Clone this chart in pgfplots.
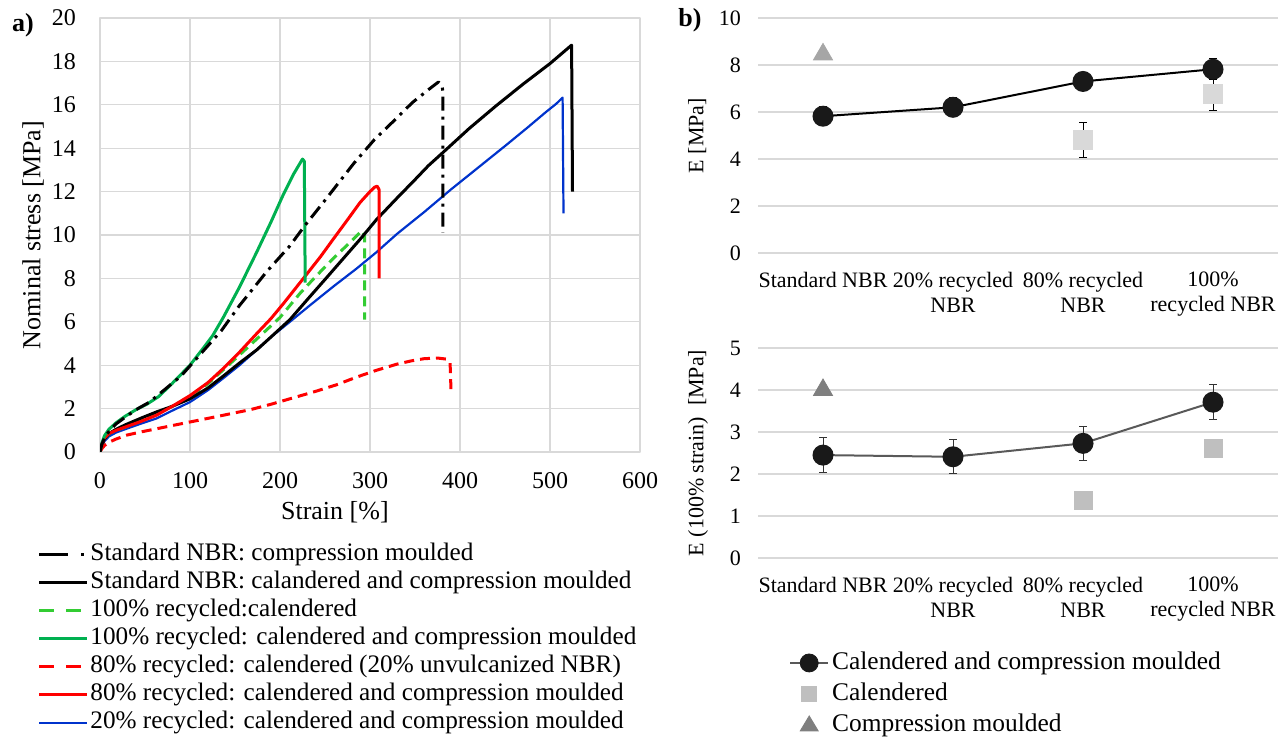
\documentclass[border=0pt]{standalone}
\usepackage{pgfplots}
\pgfplotsset{compat=1.18}
\usepackage{fontspec}
\setmainfont{Liberation Serif}
\definecolor{gridgray}{HTML}{D9D9D9}
\definecolor{xlgreen}{HTML}{00B050}
\definecolor{ltgreen}{HTML}{33CC33}
\definecolor{xlblue}{HTML}{0033CC}
\definecolor{calA}{HTML}{D9D9D9}
\definecolor{cmA}{HTML}{A6A6A6}
\definecolor{calB}{HTML}{BFBFBF}
\definecolor{cmB}{HTML}{7F7F7F}
\definecolor{lineB}{HTML}{595959}

\pgfplotstableread{
x y
0 0
2 0.35
5 0.65
10 0.95
18 1.3
28 1.6
40 1.95
55 2.3
74 2.95
90 3.5
105 4.2
120 4.9
135 5.6
155 6.75
185 8.3
211 9.5
227 10.4
250 11.6
282 13.3
305 14.4
325 15.2
347 16.1
365 16.7
376 17.05
380 16.9
381 16.6
381 10.1
}\stdcm

\pgfplotstableread{
x y
0 0
2 0.3
5 0.6
10 0.85
18 1.05
28 1.25
45 1.55
63 1.85
80 2.1
100 2.45
120 2.95
137 3.5
155 4.1
174 4.7
190 5.3
211 6.1
233 7.15
250 7.95
270 8.9
290 9.85
307 10.7
330 11.7
350 12.55
365 13.2
381 13.8
410 14.9
440 15.95
470 16.95
500 17.9
524 18.75
525 12.0
}\stdccm

\pgfplotstableread{
x y
0 0
2 0.3
5 0.6
10 0.85
18 1.0
28 1.15
45 1.45
63 1.75
80 2.1
100 2.55
120 3.15
144 4.05
174 5.2
200 6.2
222 7.3
240 8.1
260 8.95
280 9.75
291 10.2
294 10.0
294 6.1
}\rcal

\pgfplotstableread{
x y
0 0
2 0.4
5 0.75
10 1.05
18 1.35
28 1.65
40 1.95
52 2.2
65 2.55
80 3.15
100 4.0
115 4.8
125 5.35
137 6.2
155 7.6
174 9.2
190 10.6
203 11.8
215 12.8
225 13.5
227 13.4
228 7.8
}\rccm

\pgfplotstableread{
x y
0 0
2 0.15
5 0.3
10 0.45
18 0.6
30 0.78
45 0.92
64 1.08
90 1.3
120 1.55
140 1.72
167 1.95
190 2.2
215 2.5
240 2.8
263 3.1
285 3.45
306 3.75
330 4.05
346 4.2
360 4.3
375 4.33
385 4.28
389 4.1
390 2.85
}\ecal

\pgfplotstableread{
x y
0 0
2 0.35
5 0.65
10 0.85
18 1.0
28 1.15
45 1.4
63 1.7
80 2.1
100 2.6
120 3.2
137 3.85
155 4.6
174 5.45
190 6.15
204 6.85
226 8.0
245 9.0
259 9.8
275 10.7
289 11.5
300 12.0
305 12.2
308 12.25
310 12.1
310 8.0
}\eccm

\pgfplotstableread{
x y
0 0
2 0.25
5 0.5
10 0.72
18 0.9
28 1.05
45 1.3
63 1.55
80 1.9
100 2.3
120 2.85
137 3.4
155 4.0
174 4.7
190 5.3
211 6.0
233 6.75
260 7.65
285 8.45
307 9.2
330 10.05
360 11.05
390 12.1
420 13.1
450 14.1
475 14.95
495 15.65
507 16.05
514 16.33
515 11.0
}\tccm

\pgfplotstableread{
x y e
0 5.82 0.4
1 6.2 0.4
2 7.3 0.38
3 7.82 0.45
}\Eccm
\pgfplotstableread{
x y e
2 4.82 0.74
3 6.78 0.73
}\Ecal
\pgfplotstableread{
x y e
0 8.45 0.2
}\Ecm

\pgfplotstableread{
x y e
0 2.45 0.41
1 2.41 0.41
2 2.73 0.41
3 3.71 0.41
}\Mccm
\pgfplotstableread{
x y
2 1.36
3 2.6
}\Mcal
\pgfplotstableread{
x y
0 4.0
}\Mcm

\begin{document}
\begin{tikzpicture}
\useasboundingbox (0,0) rectangle (641.5pt,368.5pt);
\node[font=\bfseries\fontsize{13}{13}\selectfont] at (11.5pt,356pt) {a)};
\node[font=\bfseries\fontsize{13}{13}\selectfont] at (345pt,358.5pt) {b)};

% ---------------- a) ----------------
\begin{axis}[
  scale only axis, anchor=south west, at={(50pt,142.5pt)},
  width=270pt, height=217pt,
  xmin=0, xmax=600, ymin=0, ymax=20,
  xtick={0,100,...,600}, ytick={0,2,...,20},
  grid=major, grid style={draw=gridgray, line width=0.6pt},
  axis line style={draw=gridgray, line width=0.6pt},
  tick style={draw=none},
  /pgf/number format/assume math mode=true,
  ticklabel style={font=\fontsize{12}{12}\selectfont},
  xticklabel style={yshift=-6.5pt},
  yticklabel style={xshift=-8.5pt},
  xlabel={Strain [\%]}, ylabel={Nominal stress [MPa]},
  label style={font=\fontsize{13}{13}\selectfont},
  xlabel style={at={(axis description cs:0.435,-0.138)}, anchor=center},
  ylabel style={at={(axis description cs:-0.124,0.5)}, anchor=center},
  legend cell align=left,
  legend style={at={(axis description cs:-0.115,-0.205)}, anchor=north west,
    draw=none, fill=none, inner sep=0pt, outer sep=0pt, row sep=0pt,
    font=\fontsize{12.6}{12.6}\selectfont,
    nodes={inner sep=0pt, text height=10pt, text depth=4pt},
    /tikz/every odd column/.append style={column sep=0.8pt}},
  line join=round,
]
\addlegendimage{legend image code/.code={\draw[black, line width=1.5pt] (0pt,0pt) -- (14.5pt,0pt); \draw[black, line width=1.5pt] (21pt,0pt) -- (22.5pt,0pt);}}
\addlegendentry{Standard NBR: compression moulded}
\addlegendimage{legend image code/.code={\draw[black, line width=1.5pt] (0pt,0pt) -- (24pt,0pt);}}
\addlegendentry{Standard NBR: calandered and compression moulded}
\addlegendimage{legend image code/.code={\draw[ltgreen, line width=1.5pt, dash pattern=on 7.5pt off 6pt] (0pt,0pt) -- (21pt,0pt);}}
\addlegendentry{100\% recycled:calendered}
\addlegendimage{legend image code/.code={\draw[xlgreen, line width=1.5pt] (0pt,0pt) -- (24pt,0pt);}}
\addlegendentry{100\% recycled: calendered and compression moulded}
\addlegendimage{legend image code/.code={\draw[red, line width=1.5pt, dash pattern=on 7.5pt off 6pt] (0pt,0pt) -- (21pt,0pt);}}
\addlegendentry{80\% recycled: calendered (20\% unvulcanized NBR)}
\addlegendimage{legend image code/.code={\draw[red, line width=1.5pt] (0pt,0pt) -- (24pt,0pt);}}
\addlegendentry{80\% recycled: calendered and compression moulded}
\addlegendimage{legend image code/.code={\draw[xlblue, line width=1.1pt] (0pt,0pt) -- (24pt,0pt);}}
\addlegendentry{20\% recycled: calendered and compression moulded}

\addplot[forget plot, xlblue, line width=1.1pt] table {\tccm};
\addplot[forget plot, ltgreen, line width=1.5pt, dash pattern=on 5pt off 3pt] table {\rcal};
\addplot[forget plot, black, line width=1.5pt] table {\stdccm};
\addplot[forget plot, red, line width=1.5pt, dash pattern=on 5pt off 3pt] table {\ecal};
\addplot[forget plot, red, line width=1.5pt] table {\eccm};
\addplot[forget plot, xlgreen, line width=1.5pt] table {\rccm};
\addplot[forget plot, black, line width=1.5pt, dash pattern=on 7pt off 3pt on 1.5pt off 3pt] table {\stdcm};
\end{axis}

% ---------------- b) upper ----------------
\begin{axis}[
  scale only axis, anchor=south west, at={(379pt,242pt)},
  width=260pt, height=117.5pt,
  xmin=-0.5, xmax=3.5, ymin=0, ymax=10,
  xtick={0,1,2,3}, ytick={0,2,...,10},
  xticklabels={Standard NBR, {20\% recycled\\NBR}, {80\% recycled\\NBR}, {100\%\\recycled NBR}},
  ymajorgrids, grid style={draw=gridgray, line width=0.6pt},
  axis line style={draw=none}, tick style={draw=none},
  /pgf/number format/assume math mode=true,
  ticklabel style={font=\fontsize{11}{12.5}\selectfont},
  xticklabel style={align=center, yshift=-6pt},
  yticklabel style={xshift=-5pt},
  ylabel={E [MPa]},
  label style={font=\fontsize{11}{11}\selectfont},
  ylabel style={at={(axis description cs:-0.117,0.5)}, anchor=center},
]
\addplot[black, line width=1pt, mark=*, mark size=4.75pt, mark options={fill=black!90, draw=black!90},
  error bars/.cd, y dir=both, y explicit,
  error bar style={line width=0.5pt, black},
  error mark options={rotate=90, mark size=2pt, line width=0.5pt, black}]
  table[x=x, y=y, y error=e] {\Eccm};
\addplot[only marks, mark=square*, mark size=4.75pt, mark options={fill=calA, draw=calA},
  error bars/.cd, y dir=both, y explicit,
  error bar style={line width=0.5pt, black},
  error mark options={rotate=90, mark size=2pt, line width=0.5pt, black}]
  table[x=x, y=y, y error=e] {\Ecal};
\addplot[only marks, mark=triangle*, mark size=5.5pt, mark options={fill=cmA, draw=cmA},
  error bars/.cd, y dir=both, y explicit,
  error bar style={line width=0.5pt, black},
  error mark options={rotate=90, mark size=2pt, line width=0.5pt, black}]
  table[x=x, y=y, y error=e] {\Ecm};
\end{axis}

% ---------------- b) lower ----------------
\begin{axis}[
  scale only axis, anchor=south west, at={(379pt,89.5pt)},
  width=260pt, height=105pt,
  xmin=-0.5, xmax=3.5, ymin=0, ymax=5,
  xtick={0,1,2,3}, ytick={0,1,...,5},
  xticklabels={Standard NBR, {20\% recycled\\NBR}, {80\% recycled\\NBR}, {100\%\\recycled NBR}},
  ymajorgrids, grid style={draw=gridgray, line width=0.6pt},
  axis line style={draw=none}, tick style={draw=none},
  /pgf/number format/assume math mode=true,
  ticklabel style={font=\fontsize{11}{12.5}\selectfont},
  xticklabel style={align=center, yshift=-6pt},
  yticklabel style={xshift=-5pt},
  ylabel={E (100\% strain)\ \ [MPa]},
  label style={font=\fontsize{11}{11}\selectfont},
  ylabel style={at={(axis description cs:-0.115,0.5)}, anchor=center},
  legend cell align=left,
  legend style={at={(axis description cs:0.06,-0.426)}, anchor=north west,
    draw=none, fill=none, inner sep=0pt, outer sep=0pt, row sep=0pt,
    font=\fontsize{12.7}{12.7}\selectfont,
    nodes={inner sep=0pt, text height=11pt, text depth=4.5pt},
    /tikz/every odd column/.append style={column sep=1.5pt}},
]
\addlegendimage{legend image code/.code={\draw[lineB, line width=1pt] (0pt,0pt) -- (19pt,0pt); \fill[black!90] (9.5pt,0pt) circle (4.5pt);}}
\addlegendentry{Calendered and compression moulded}
\addlegendimage{legend image code/.code={\fill[calB] (5.75pt,-3.75pt) rectangle (13.25pt,3.75pt);}}
\addlegendentry{Calendered}
\addlegendimage{legend image code/.code={\fill[cmB] (5pt,-3pt) -- (14pt,-3pt) -- (9.5pt,4.5pt) -- cycle;}}
\addlegendentry{Compression moulded}

\addplot[forget plot, lineB, line width=1pt, mark=*, mark size=4.75pt, mark options={fill=black!90, draw=black!90},
  error bars/.cd, y dir=both, y explicit,
  error bar style={line width=0.5pt, black!80},
  error mark options={rotate=90, mark size=2pt, line width=0.5pt, black!80}]
  table[x=x, y=y, y error=e] {\Mccm};
\addplot[forget plot, only marks, mark=square*, mark size=4.5pt, mark options={fill=calB, draw=calB}] table[x=x, y=y] {\Mcal};
\addplot[forget plot, only marks, mark=triangle*, mark size=5.5pt, mark options={fill=cmB, draw=cmB}] table[x=x, y=y] {\Mcm};
\end{axis}
\end{tikzpicture}
\end{document}
